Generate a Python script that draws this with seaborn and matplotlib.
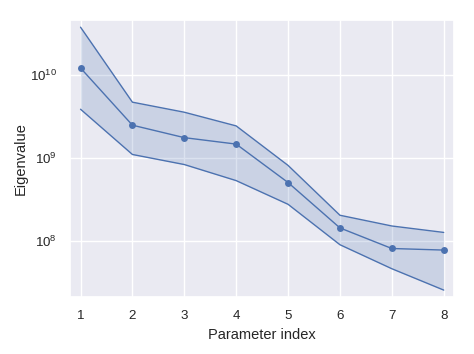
import numpy as np
import pandas as pd
import matplotlib
matplotlib.use("Agg")
import matplotlib.pyplot as plt
import seaborn as sns

# values (log scale)
param_index = [1, 2, 3, 4, 5, 6, 7, 8]
eig_mean = [1.22e10, 2.5e9, 1.77e9, 1.48e9, 5.1e8, 1.45e8, 8.2e7, 7.85e7]
eig_upper = [3.78e10, 4.73e9, 3.58e9, 2.45e9, 8.2e8, 2.06e8, 1.53e8, 1.28e8]
eig_lower = [3.89e9, 1.11e9, 8.4e8, 5.38e8, 2.79e8, 9.1e7, 4.68e7, 2.59e7]

sns.set_theme(style="darkgrid", rc={'axes.labelsize': 10.5, 'xtick.labelsize': 9.6,
                                    'ytick.labelsize': 9.6})
plt.rcParams['font.family'] = ['Liberation Sans', 'DejaVu Sans']

df = pd.DataFrame({'Parameter index': param_index, 'Eigenvalue': eig_mean,
                   'upper': eig_upper, 'lower': eig_lower})

color = sns.color_palette("deep")[0]
fig, ax = plt.subplots(figsize=(4.74, 3.54), dpi=100)

ax.fill_between(df['Parameter index'], df['lower'], df['upper'], color=color, alpha=0.2, linewidth=0)
sns.lineplot(data=df, x='Parameter index', y='upper', ax=ax, color=color, linewidth=1)
sns.lineplot(data=df, x='Parameter index', y='lower', ax=ax, color=color, linewidth=1)
sns.lineplot(data=df, x='Parameter index', y='Eigenvalue', ax=ax, color=color, linewidth=1,
             marker='o', markersize=5, markeredgewidth=0)

ax.set_yscale('log')
ax.set_xlim(0.8, 8.2)
ax.set_ylim(10**7.33, 10**10.666)
ax.set_xticks(param_index)
ax.set_xlabel('Parameter index')
ax.set_ylabel('Eigenvalue', labelpad=1.5)

fig.subplots_adjust(left=0.148, right=0.958, top=0.944, bottom=0.161)
fig.savefig('out.png', dpi=100)
